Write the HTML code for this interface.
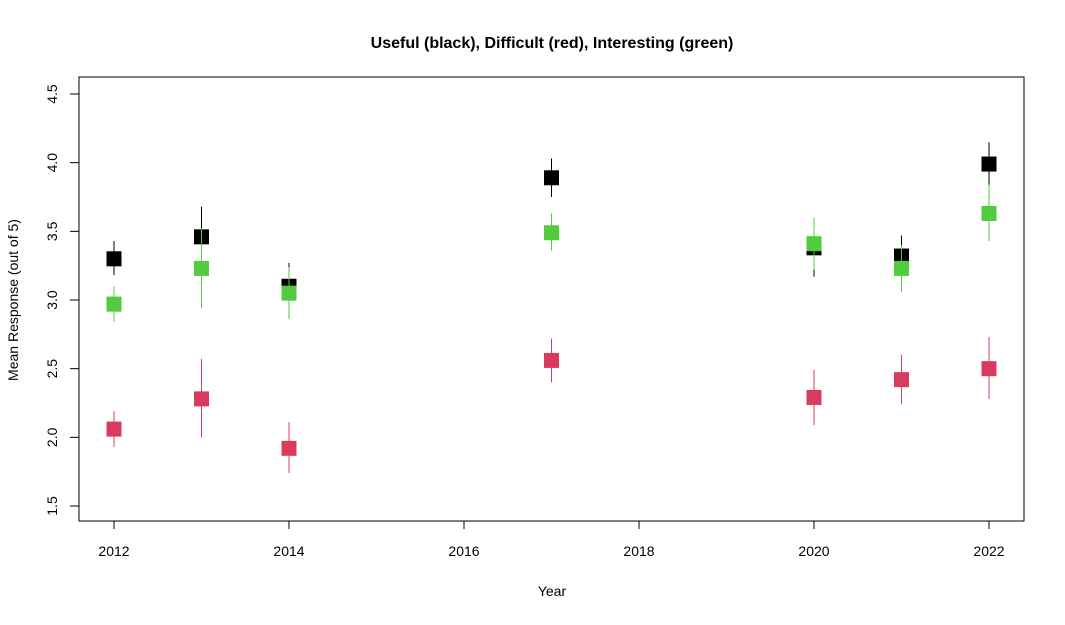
<!DOCTYPE html>
<html><head><meta charset="utf-8"><style>
body{margin:0;background:#fff;}
svg text{font-family:"Liberation Sans",Arial,sans-serif;}
</style></head><body>
<svg id="chart" width="1065" height="620" xmlns="http://www.w3.org/2000/svg">
<rect width="1065" height="620" fill="#fff"/>
<text x="552" y="48" text-anchor="middle" font-size="16" font-weight="bold">Useful (black), Difficult (red), Interesting (green)</text>
<rect x="79" y="77" width="945" height="444" fill="none" stroke="#000" stroke-width="1"/>
<text x="552" y="596" text-anchor="middle" font-size="14">Year</text>
<text transform="translate(18,300) rotate(-90)" text-anchor="middle" font-size="14">Mean Response (out of 5)</text>
<g id="axes"></g>
<g id="marks"></g>
</svg>
<script>
const years = [2012, 2013, 2014, 2017, 2020, 2021, 2022];
const usefulMean = [3.30, 3.46, 3.10, 3.89, 3.38, 3.32, 3.99];
const usefulLow = [3.18, 3.25, 2.96, 3.75, 3.17, 3.18, 3.83];
const usefulHigh = [3.43, 3.68, 3.27, 4.03, 3.58, 3.47, 4.15];
const difficultMean = [2.06, 2.28, 1.92, 2.56, 2.29, 2.42, 2.50];
const difficultLow = [1.93, 2.00, 1.74, 2.40, 2.09, 2.24, 2.28];
const difficultHigh = [2.19, 2.57, 2.11, 2.72, 2.49, 2.60, 2.73];
const interestingMean = [2.97, 3.23, 3.05, 3.49, 3.41, 3.23, 3.63];
const interestingLow = [2.84, 2.94, 2.86, 3.36, 3.22, 3.06, 3.43];
const interestingHigh = [3.10, 3.52, 3.24, 3.63, 3.60, 3.40, 3.84];
const xTicks = [2012, 2014, 2016, 2018, 2020, 2022];
const yTicks = [1.5, 2.0, 2.5, 3.0, 3.5, 4.0, 4.5];

const NS = "http://www.w3.org/2000/svg";
const xs = v => 114 + (v - 2012) * 87.5;
const ys = v => 506 - (v - 1.5) * 137.33;
const axes = document.getElementById('axes');
const marks = document.getElementById('marks');
function mk(tag, attrs, parent){const e=document.createElementNS(NS,tag);for(const k in attrs)e.setAttribute(k,attrs[k]);parent.appendChild(e);return e;}

let xl = mk('line',{x1:xs(2012),x2:xs(2022),y1:521,y2:521,stroke:'#000'},axes);


xTicks.forEach(t=>{
  const l=mk('line',{x1:xs(t),x2:xs(t),y1:521,y2:529,stroke:'#000'},axes);
  
  
  const tx=mk('text',{x:xs(t),y:556,'text-anchor':'middle','font-size':14},axes);
  tx.textContent=t;
  
  
});
let yl = mk('line',{x1:79,x2:79,y1:ys(1.5),y2:ys(4.5),stroke:'#000'},axes);


yTicks.forEach(t=>{
  const l=mk('line',{x1:70,x2:79,y1:ys(t),y2:ys(t),stroke:'#000'},axes);
  
  
  const tx=mk('text',{transform:`translate(57,${ys(t)}) rotate(-90)`,'text-anchor':'middle','font-size':14},axes);
  tx.textContent=t.toFixed(1);
  
  
});

function series(mean, low, high, color, name){
  years.forEach((y,i)=>{
    const l=mk('line',{x1:xs(y),x2:xs(y),y1:ys(low[i]),y2:ys(high[i]),stroke:color,'stroke-width':1},marks);
    
    
    const r=mk('rect',{x:xs(y)-7.5,y:ys(mean[i])-7.5,width:15,height:15,fill:color},marks);
    
    
  });
}
series(usefulMean,usefulLow,usefulHigh,'#000000','useful');
series(difficultMean,difficultLow,difficultHigh,'#D93B5E','difficult');
series(interestingMean,interestingLow,interestingHigh,'#52CB3E','interesting');
</script>
</body></html>
